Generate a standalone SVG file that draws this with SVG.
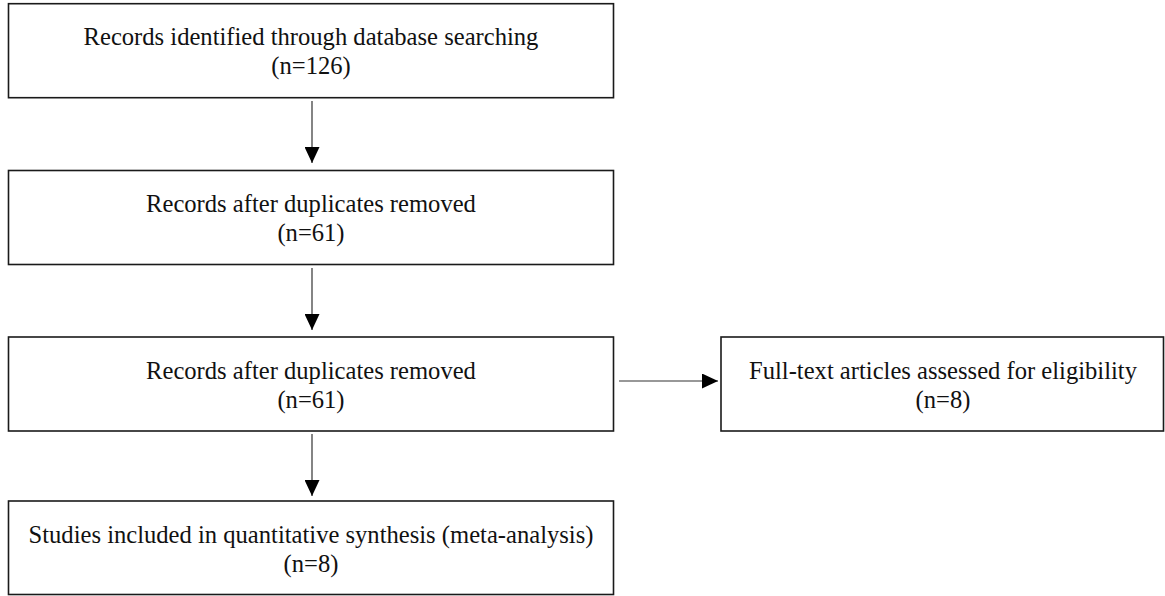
<svg xmlns="http://www.w3.org/2000/svg" width="1165" height="596" viewBox="0 0 1165 596">
<defs>
<marker id="ah" viewBox="0 0 10 10" refX="10" refY="5" markerWidth="16" markerHeight="15" markerUnits="userSpaceOnUse" orient="auto" preserveAspectRatio="none">
<path d="M0,0 L10,5 L0,10 Z" fill="#000"/>
</marker>
</defs>
<style>
.box{fill:#fff;stroke:#1a1a1a;stroke-width:1.6}
.t{font-family:"Liberation Serif","Times New Roman",serif;font-size:24.6px;fill:#111;text-anchor:middle}
.c{stroke:#333;stroke-width:1.2;fill:none;marker-end:url(#ah)}
</style>
<rect width="1165" height="596" fill="#fff"/>
<g id="n1">
<rect class="box" x="8.5" y="3.7" width="605" height="94"/>
<text class="t" x="311" y="45">Records identified through database searching</text>
<text class="t" x="311" y="74">(n=126)</text>
</g>
<g id="n2">
<rect class="box" x="8.5" y="170.5" width="605" height="94"/>
<text class="t" x="311" y="212">Records after duplicates removed</text>
<text class="t" x="311" y="241">(n=61)</text>
</g>
<g id="n3">
<rect class="box" x="8.5" y="337" width="605" height="94"/>
<text class="t" x="311" y="379">Records after duplicates removed</text>
<text class="t" x="311" y="408">(n=61)</text>
</g>
<g id="n4">
<rect class="box" x="721" y="337" width="442.5" height="94"/>
<text class="t" x="943" y="379">Full-text articles assessed for eligibility</text>
<text class="t" x="943" y="408">(n=8)</text>
</g>
<g id="n5">
<rect class="box" x="8.5" y="501" width="605" height="93.5"/>
<text class="t" x="311" y="542.5">Studies included in quantitative synthesis (meta-analysis)</text>
<text class="t" x="311" y="571.5">(n=8)</text>
</g>
<g id="connectors">
<line class="c" x1="312" y1="101" x2="312" y2="163"/>
<line class="c" x1="312" y1="268" x2="312" y2="330"/>
<line class="c" x1="619" y1="381" x2="718" y2="381"/>
<line class="c" x1="312" y1="434" x2="312" y2="496"/>
</g>
</svg>
